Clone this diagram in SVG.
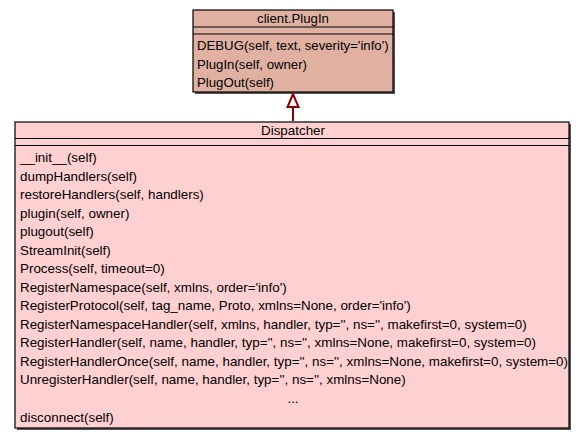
<svg xmlns="http://www.w3.org/2000/svg" width="585" height="440" viewBox="0 0 585 440">
<style>
text{font-family:"Liberation Sans",Arial,sans-serif;font-size:13.4px;fill:#000}
#plugin text{font-size:13.2px}
.box{stroke:#000;stroke-width:1.2}
.shadow{fill:#555}
.sep{stroke:#000;stroke-width:1.2}
.mid{text-anchor:middle}
.conn{stroke:#8b0000;stroke-width:2;fill:none}
.head{stroke:#8b0000;stroke-width:2;fill:#fff}
</style>
<rect width="585" height="440" fill="#fff"/>
<g id="plugin">
<rect class="shadow" x="195" y="12" width="200" height="82"/>
<rect class="box" x="193" y="10" width="200" height="82" fill="#e0b1a0"/>
<line class="sep" x1="193" y1="27" x2="393" y2="27"/>
<line class="sep" x1="193" y1="34" x2="393" y2="34"/>
<text class="mid" x="293" y="22.5">client.PlugIn</text>
<text x="197" y="50">DEBUG(self, text, severity='info')</text>
<text x="197" y="68.5">PlugIn(self, owner)</text>
<text x="197" y="87">PlugOut(self)</text>
</g>
<g id="dispatcher">
<rect class="shadow" x="17" y="124" width="554" height="306"/>
<rect class="box" x="15" y="122" width="554" height="306" fill="#ffd0d0"/>
<line class="sep" x1="15" y1="138.5" x2="569" y2="138.5"/>
<line class="sep" x1="15" y1="145.5" x2="569" y2="145.5"/>
<text class="mid" x="293" y="134.5">Dispatcher</text>
<text x="20" y="162">__init__(self)</text>
<text x="20" y="180.5">dumpHandlers(self)</text>
<text x="20" y="199">restoreHandlers(self, handlers)</text>
<text x="20" y="217.5">plugin(self, owner)</text>
<text x="20" y="236">plugout(self)</text>
<text x="20" y="254.5">StreamInit(self)</text>
<text x="20" y="273">Process(self, timeout=0)</text>
<text x="20" y="291.5">RegisterNamespace(self, xmlns, order='info')</text>
<text x="20" y="310">RegisterProtocol(self, tag_name, Proto, xmlns=None, order='info')</text>
<text x="20" y="328.5">RegisterNamespaceHandler(self, xmlns, handler, typ='', ns='', makefirst=0, system=0)</text>
<text x="20" y="347">RegisterHandler(self, name, handler, typ='', ns='', xmlns=None, makefirst=0, system=0)</text>
<text x="20" y="365.5">RegisterHandlerOnce(self, name, handler, typ='', ns='', xmlns=None, makefirst=0, system=0)</text>
<text x="20" y="384">UnregisterHandler(self, name, handler, typ='', ns='', xmlns=None)</text>
<text class="mid" x="293" y="402.5">...</text>
<text x="20" y="421.5">disconnect(self)</text>
</g>
<g id="connectors">
<line class="conn" x1="293" y1="121" x2="293" y2="107"/>
<polygon class="head" points="293,94 287.5,107 298.5,107"/>
</g>
</svg>
